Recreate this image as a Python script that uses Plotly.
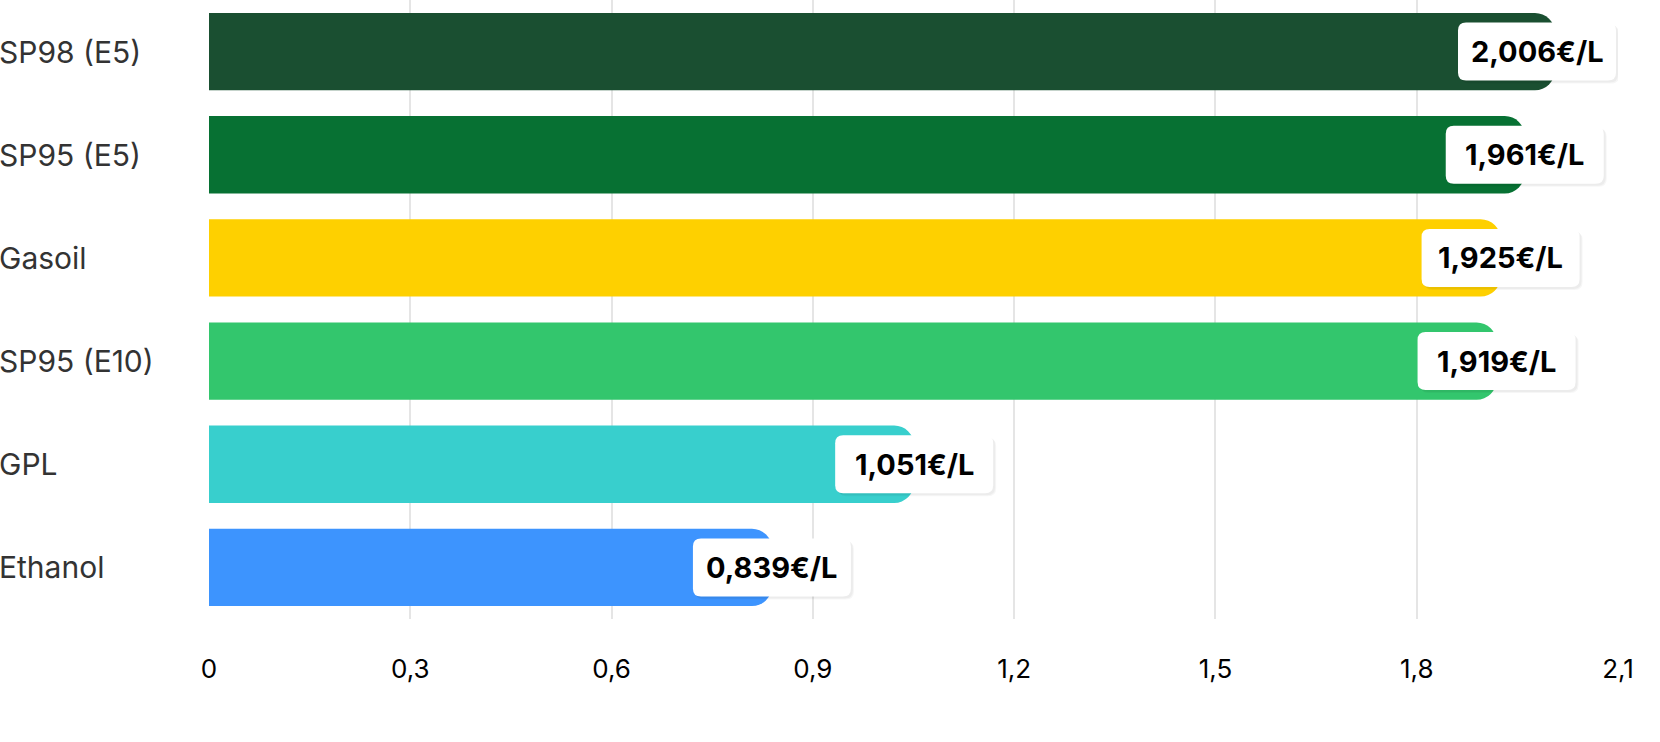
import plotly.graph_objects as go

categories = ["SP98 (E5)", "SP95 (E5)", "Gasoil", "SP95 (E10)", "GPL", "Ethanol"]
prices = [2.006, 1.961, 1.925, 1.919, 1.051, 0.839]
colors = ["#1a4f31", "#077133", "#fed000", "#33c66d", "#38cfcd", "#3d94fe"]
tick_vals = [0, 0.3, 0.6, 0.9, 1.2, 1.5, 1.8, 2.1]
tick_text = ["0", "0,3", "0,6", "0,9", "1,2", "1,5", "1,8", "2,1"]

W, H = 1660, 742
ML, MR, MT, MB = 209, 42, 0, 123
plot_w = W - ML - MR
xmax = 2.1
px_per_unit = plot_w / xmax
FONT = "Inter"

fig = go.Figure()
fig.add_trace(go.Bar(
    y=categories, x=prices, orientation="h",
    marker=dict(color=colors, cornerradius=20, line=dict(width=0)),
    hoverinfo="skip",
))

# label boxes
bw, bh, r = 158, 58, 8

def rrect(dx, dy):
    x0, x1 = -bw / 2 + dx, bw / 2 + dx
    y0, y1 = -bh / 2 + dy, bh / 2 + dy
    return (f"M{x0+r},{y0} L{x1-r},{y0} Q{x1},{y0} {x1},{y0+r} "
            f"L{x1},{y1-r} Q{x1},{y1} {x1-r},{y1} L{x0+r},{y1} "
            f"Q{x0},{y1} {x0},{y1-r} L{x0},{y0+r} Q{x0},{y0} {x0+r},{y0} Z")

shapes = []
annotations = []
for i, (cat, v) in enumerate(zip(categories, prices)):
    anchor = min(v, xmax - (bw / 2 + 2) / px_per_unit)
    for dx, dy, col in [(3, -3, "rgba(0,0,0,0.035)"), (2, -2, "rgba(0,0,0,0.04)")]:
        shapes.append(dict(type="path", xref="x", yref="y", xsizemode="pixel", ysizemode="pixel",
                           xanchor=anchor, yanchor=cat, path=rrect(dx, dy),
                           fillcolor=col, line=dict(width=0), layer="above"))
    shapes.append(dict(type="path", xref="x", yref="y", xsizemode="pixel", ysizemode="pixel",
                       xanchor=anchor, yanchor=cat, path=rrect(0, 0),
                       fillcolor="white", line=dict(width=0), layer="above"))
    annotations.append(dict(x=anchor, y=cat, xref="x", yref="y", showarrow=False,
                            text="<b>" + f"{v:.3f}".replace(".", ",") + "€/L</b>",
                            font=dict(family=FONT, size=29, color="#000000"),
                            xanchor="center", yanchor="middle"))
    annotations.append(dict(x=-ML / plot_w, y=cat, xref="paper", yref="y", showarrow=False,
                            text=cat, font=dict(family=FONT, size=30, color="#333333"),
                            xanchor="left", yanchor="middle", xshift=-3))

fig.update_layout(
    width=W, height=H,
    margin=dict(l=ML, r=MR, t=MT, b=MB),
    paper_bgcolor="white", plot_bgcolor="white",
    bargap=0.25, showlegend=False,
    separators=", ",
    shapes=shapes, annotations=annotations,
    xaxis=dict(range=[0, xmax], tickvals=tick_vals, ticktext=tick_text,
               showgrid=True, gridcolor="#e5e5e5", gridwidth=2,
               zeroline=False, showline=False, ticks="",
               ticklabelstandoff=32,
               tickfont=dict(family=FONT, size=26, color="#000000"), fixedrange=True),
    yaxis=dict(autorange="reversed", showticklabels=False, showgrid=False,
               zeroline=False, showline=False, fixedrange=True),
)

fig.write_html("out.html", config={"displayModeBar": False})
